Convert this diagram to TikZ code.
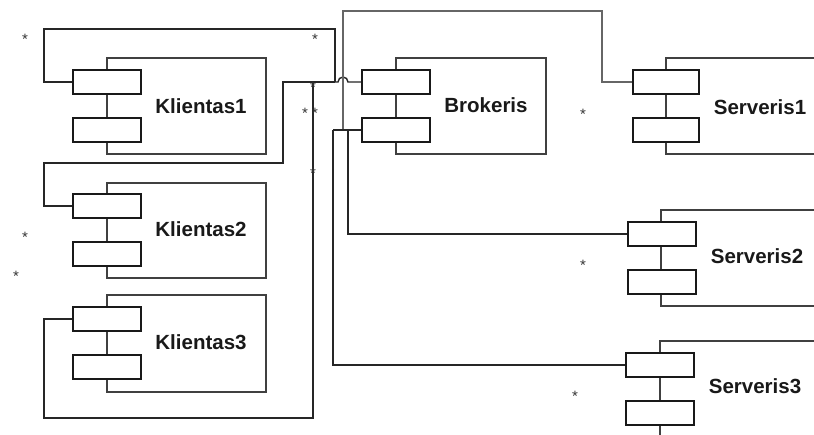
\documentclass[tikz,border=0pt]{standalone}
\usepackage{fontspec}
\setmainfont{Liberation Sans}
\begin{document}
\begin{tikzpicture}[x=1pt,y=-1pt,
  body/.style={draw=black!75, line width=1.5pt, fill=white, inner sep=0pt},
  port/.style={draw=black!90, line width=1.8pt, fill=white, minimum width=68pt, minimum height=24pt, inner sep=0pt},
  lbl/.style={font=\fontsize{20.5}{24}\selectfont\bfseries, text=black!90, inner sep=0pt},
  mult/.style={font=\fontsize{15}{16}\selectfont, text=black!80, inner sep=0pt},
  wire/.style={draw=black!85, line width=1.4pt},
  greywire/.style={draw=black!60, line width=1.6pt}]
\useasboundingbox (0,0) rectangle (814,434);
\fill[white] (0,0) rectangle (814,434);
\clip (0,0) rectangle (814,434);

% component bodies
\node[body, minimum width=159pt, minimum height=96pt] (k1) at (186.5,106) {};
\node[body, minimum width=159pt, minimum height=95pt] (k2) at (186.5,230.5) {};
\node[body, minimum width=159pt, minimum height=97pt] (k3) at (186.5,343.5) {};
\node[body, minimum width=150pt, minimum height=96pt] (br) at (471,106) {};
\node[body, minimum width=200pt, minimum height=96pt] (s1) at (766,106) {};
\node[body, minimum width=200pt, minimum height=96pt] (s2) at (761,258) {};
\node[body, minimum width=200pt, minimum height=96pt] (s3) at (760,389) {};

% interface ports
\node[port] (k1a) at (107,82) {};
\node[port] (k1b) at (107,130) {};
\node[port] (k2a) at (107,206) {};
\node[port] (k2b) at (107,254) {};
\node[port] (k3a) at (107,319) {};
\node[port] (k3b) at (107,367) {};
\node[port] (b1) at (396,82) {};
\node[port] (b2) at (396,130) {};
\node[port, minimum width=66pt] (s1a) at (666,82) {};
\node[port, minimum width=66pt] (s1b) at (666,130) {};
\node[port] (s2a) at (662,234) {};
\node[port] (s2b) at (662,282) {};
\node[port] (s3a) at (660,365) {};
\node[port] (s3b) at (660,413) {};

% names
\node[lbl] at (201,106) {Klientas1};
\node[lbl] at (201,229) {Klientas2};
\node[lbl] at (201,342) {Klientas3};
\node[lbl] at (486,105) {Brokeris};
\node[lbl] at (760,107) {Serveris1};
\node[lbl] at (757,256) {Serveris2};
\node[lbl] at (755,386) {Serveris3};

% junction points
\coordinate (j1) at (335,82);
\coordinate (j2) at (333,130);
\coordinate (j3) at (348,130);

% client links to the broker
\draw[wire] (k1a.west) -| (44,29) -| (j1);
\draw[wire] (k2a.west) -| (44,163) -| (283,82) -- (j1);
\draw[wire] (k3a.west) -| (44,418) -| (313,82);
\draw[wire] (j1) -- (338,82) arc[start angle=180, end angle=0, radius=5pt] -- (b1.west);

% server links to the broker
\draw[greywire] (s1a.west) -| (602,11) -| (343,130);
\draw[wire] (b2.west) -- (j2);
\draw[wire] (j2) |- (s3a.west);
\draw[wire] (j3) |- (s2a.west);

% multiplicities
\node[mult] at (25,39) {*};
\node[mult] at (315,39) {*};
\node[mult] at (313,87) {*};
\node[mult] at (305,113) {*};
\node[mult] at (315,113) {*};
\node[mult] at (313,173) {*};
\node[mult] at (583,114) {*};
\node[mult] at (25,237) {*};
\node[mult] at (16,276) {*};
\node[mult] at (583,265) {*};
\node[mult] at (575,396) {*};
\end{tikzpicture}
\end{document}
